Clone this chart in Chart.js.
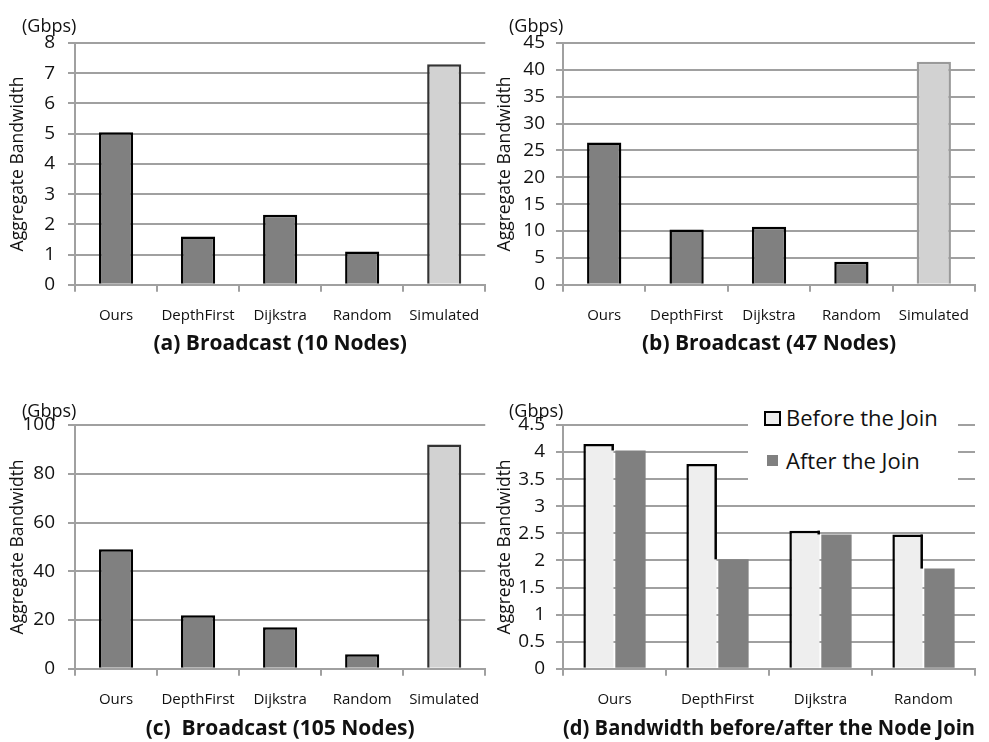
<!DOCTYPE html>
<html lang="en">
<head>
  <meta charset="UTF-8">
  <title>Aggregate Bandwidth</title>
  <script src="https://cdn.jsdelivr.net/npm/chart.js"></script>
  <style>
    body { margin: 0; background: #fff; font-family: "Open Sans", sans-serif; }
    #wrap { position: relative; width: 989px; height: 742px; background: #fff; overflow: hidden; }
    canvas { position: absolute; }
    .unit { position: absolute; font-size: 18px; color: #111; line-height: 20px; }
    #legend { position: absolute; left: 748px; top: 398px; width: 210px; height: 88px; background: #fff; }
    #legend .box { position: absolute; box-sizing: border-box; }
    #legend .txt { position: absolute; left: 38px; font-size: 22px; line-height: 26px; color: #111; white-space: nowrap; }
  </style>
</head>
<body>
<div id="wrap">
  <canvas id="chartA" width="495" height="371" style="left:0;top:0"></canvas>
  <canvas id="chartB" width="494" height="371" style="left:495px;top:0"></canvas>
  <canvas id="chartC" width="495" height="352" style="left:0;top:390px"></canvas>
  <canvas id="chartD" width="494" height="352" style="left:495px;top:390px"></canvas>

  <span class="unit" style="left:22px;top:15px">(Gbps)</span>
  <span class="unit" style="left:509px;top:15px">(Gbps)</span>
  <span class="unit" style="left:22px;top:400px">(Gbps)</span>
  <span class="unit" style="left:509px;top:400px">(Gbps)</span>

  <div id="legend">
    <div class="box" style="left:16px;top:13px;width:17px;height:15px;border:2px solid #000;background:#eee"></div>
    <span class="txt" style="top:6px">Before the Join</span>
    <div class="box" style="left:19px;top:57px;width:11px;height:11px;background:#808080"></div>
    <span class="txt" style="top:49px">After the Join</span>
  </div>
</div>

<script>
  // categories
  const broadcastCats = ['Ours', 'DepthFirst', 'Dijkstra', 'Random', 'Simulated'];
  const joinCats = ['Ours', 'DepthFirst', 'Dijkstra', 'Random'];

  // values in Gbps
  const nodes10 = [5.05, 1.6, 2.32, 1.1, 7.3];
  const nodes47 = [26.5, 10.3, 10.8, 4.3, 41.5];
  const nodes105 = [49, 22, 17, 6, 92];
  const beforeJoin = [4.15, 3.78, 2.55, 2.48];
  const afterJoin = [4.03, 2.02, 2.48, 1.85];

  const GRID = '#a0a0a0';
  const DARK = '#808080';
  const LIGHT = '#d2d2d2';
  Chart.defaults.font.family = '"Open Sans", sans-serif';
  Chart.defaults.color = '#111';

  function makePanel(id, labels, datasets, yMax, yStep, title, lay, plugins) {
    new Chart(document.getElementById(id), {
      type: 'bar',
      data: { labels, datasets },
      plugins: plugins || [],
      options: {
        responsive: false,
        animation: false,
        layout: { padding: lay.pad },
        plugins: {
          legend: { display: false },
          tooltip: { enabled: false },
          title: {
            display: true,
            text: title,
            position: 'bottom',
            fullSize: false,
            color: '#111',
            font: { size: 21, weight: 'bold' },
            padding: { top: 0, bottom: 0 }
          }
        },
        scales: {
          x: {
            grid: { display: true, drawOnChartArea: false, color: GRID, lineWidth: 2, tickLength: 7 },
            border: { display: true, color: GRID, width: 2 },
            ticks: { font: { size: 15 }, padding: 15, color: '#111', maxRotation: 0 },
            afterFit: s => { s.height = lay.xh; }
          },
          y: {
            min: 0,
            max: yMax,
            ticks: { stepSize: yStep, font: { size: 19 }, padding: lay.tp, color: '#111', callback: v => String(v) },
            grid: { color: GRID, lineWidth: 2, tickLength: 7 },
            border: { display: true, color: GRID, width: 2 },
            title: {
              display: true,
              text: 'Aggregate Bandwidth',
              color: '#111',
              font: { size: 17.5 },
              padding: { top: lay.titlePad, bottom: 0 }
            },
            afterFit: s => { s.width = lay.yw; }
          }
        }
      }
    });
  }

  function broadcastSet(values, simBorder) {
    return [{
      data: values,
      backgroundColor: [DARK, DARK, DARK, DARK, LIGHT],
      borderColor: ['#000', '#000', '#000', '#000', simBorder],
      borderWidth: 2.5,
      categoryPercentage: 0.8,
      barPercentage: 0.52
    }];
  }

  const topLeft = { pad: { left: 0, top: 43, right: 7, bottom: 14 }, xh: 47, yw: 75, tp: 13, titlePad: 8 };
  const topRight = { pad: { left: 0, top: 43, right: 14, bottom: 14 }, xh: 47, yw: 68, tp: 11, titlePad: 0 };
  const botLeft = { pad: { left: 0, top: 35, right: 7, bottom: 0 }, xh: 48, yw: 75, tp: 13, titlePad: 8 };
  const botRight = { pad: { left: 0, top: 35, right: 14, bottom: 0 }, xh: 48, yw: 68, tp: 11, titlePad: 0 };

  makePanel('chartA', broadcastCats, broadcastSet(nodes10, '#333'), 8, 1, '(a) Broadcast (10 Nodes)', topLeft);
  makePanel('chartB', broadcastCats, broadcastSet(nodes47, '#9a9a9a'), 45, 5, '(b) Broadcast (47 Nodes)', topRight);
  makePanel('chartC', broadcastCats, broadcastSet(nodes105, '#333'), 100, 20, '(c)  Broadcast (105 Nodes)', botLeft);

  // right edge of the "before" bar, only where it stands above the "after" bar
  const joinEdge = {
    id: 'joinEdge',
    afterDatasetsDraw(chart) {
      const before = chart.getDatasetMeta(0).data;
      const after = chart.getDatasetMeta(1).data;
      const ctx = chart.ctx;
      ctx.save();
      ctx.strokeStyle = '#000';
      ctx.lineWidth = 2.5;
      before.forEach((b, i) => {
        const a = after[i];
        const x = b.x + b.width / 2 - 1;
        if (a.y > b.y) {
          ctx.beginPath();
          ctx.moveTo(x, b.y);
          ctx.lineTo(x, a.y);
          ctx.stroke();
        }
      });
      ctx.restore();
    }
  };

  makePanel('chartD', joinCats, [
    {
      label: 'Before the Join',
      data: beforeJoin,
      backgroundColor: '#eeeeee',
      borderColor: '#000',
      borderWidth: { top: 2.5, left: 2.5, right: 0, bottom: 0 },
      borderSkipped: false,
      categoryPercentage: 0.62,
      barPercentage: 0.95
    },
    {
      label: 'After the Join',
      data: afterJoin,
      backgroundColor: DARK,
      categoryPercentage: 0.62,
      barPercentage: 0.95
    }
  ], 4.5, 0.5, '(d) Bandwidth before/after the Node Join', botRight, [joinEdge]);
</script>
</body>
</html>
